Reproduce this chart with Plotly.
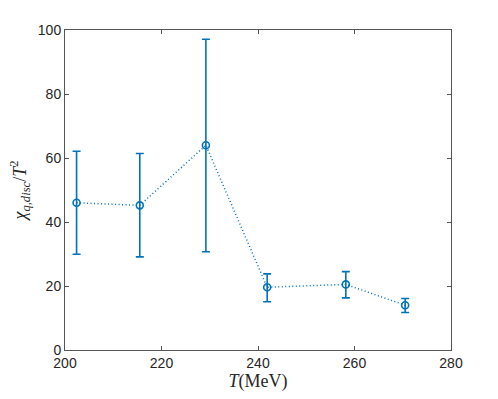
import plotly.graph_objects as go

T = [202.4, 215.5, 229.2, 241.9, 258.2, 270.5]
chi = [46.0, 45.2, 64.0, 19.6, 20.5, 14.0]
err_plus = [16.1, 16.2, 33.1, 4.2, 4.0, 2.1]
err_minus = [16.1, 16.1, 33.3, 4.5, 4.2, 2.3]

x_ticks = [200, 220, 240, 260, 280]
y_ticks = [0, 20, 40, 60, 80, 100]

color = "#0072BD"

fig = go.Figure()
fig.add_trace(go.Scatter(
    x=T, y=chi,
    mode="lines+markers",
    line=dict(color=color, width=1.5, dash="1px,2.5px"),
    marker=dict(symbol="circle-open", size=7, color=color, line=dict(width=1.6, color=color)),
    error_y=dict(type="data", symmetric=False, array=err_plus, arrayminus=err_minus,
                 color=color, thickness=1.6, width=4),
    showlegend=False,
))

axis_common = dict(
    showline=True, linecolor="#555555", linewidth=1, mirror="ticks",
    ticks="inside", ticklen=4, tickcolor="#555555", tickwidth=1,
    showgrid=False, zeroline=False, automargin=False,
    tickfont=dict(family="Liberation Sans, Arial, sans-serif", size=14, color="#262626"),
)

fig.update_layout(
    width=498, height=399,
    margin=dict(l=65, r=47, t=30, b=49),
    paper_bgcolor="white", plot_bgcolor="white",
    xaxis=dict(range=[200, 280], tickvals=x_ticks,
               title=dict(text="<i>T</i>(MeV)", standoff=3,
                          font=dict(family="Liberation Serif, serif", size=18, color="#262626")),
               **axis_common),
    yaxis=dict(range=[0, 100], tickvals=y_ticks,
               title=dict(text="<i>χ<sub>q,disc</sub></i>/<i>T</i><sup>2</sup>", standoff=6,
                          font=dict(family="Liberation Serif, serif", size=18, color="#262626")),
               **axis_common),
)

fig.write_html("out.html", config={"displayModeBar": False},
               post_script="document.body.style.margin='0';")
